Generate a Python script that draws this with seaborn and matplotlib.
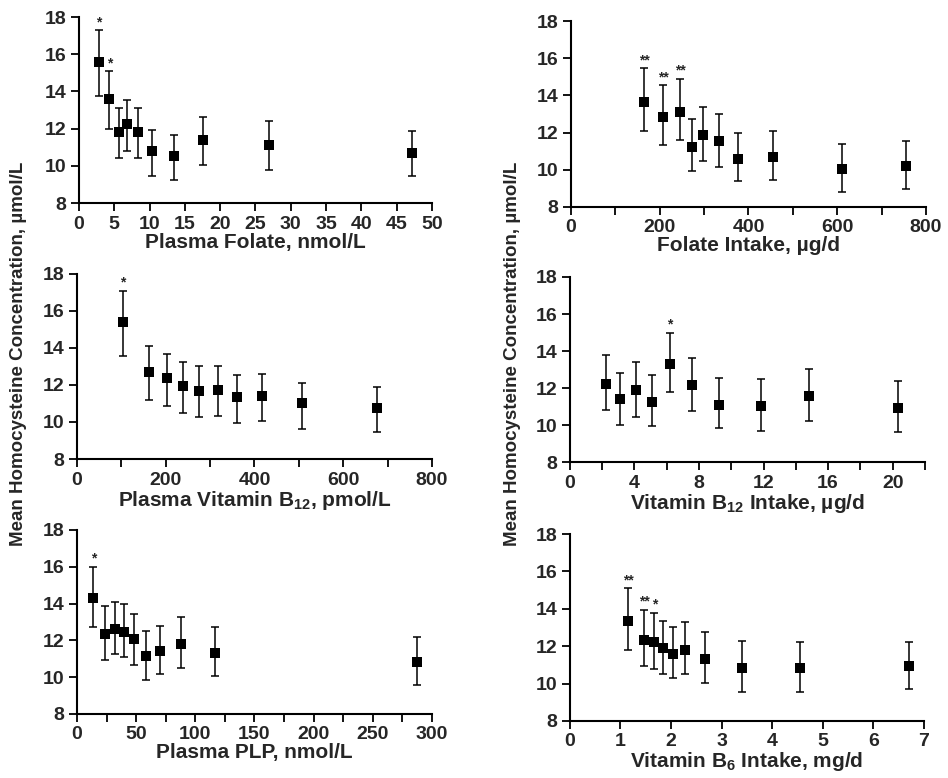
import matplotlib
matplotlib.use("Agg")
import matplotlib.pyplot as plt
import seaborn as sns
from matplotlib.ticker import MultipleLocator

# Panel A: plasma folate
folate_x = [2.8, 4.3, 5.6, 6.8, 8.3, 10.4, 13.5, 17.6, 26.9, 47.1]
folate_mean = [15.6, 13.6, 11.8, 12.25, 11.8, 10.8, 10.55, 11.4, 11.1, 10.7]
folate_hi = [17.3, 15.1, 13.1, 13.55, 13.1, 11.95, 11.65, 12.65, 12.4, 11.9]
folate_lo = [13.75, 12.0, 10.4, 10.8, 10.4, 9.45, 9.25, 10.05, 9.8, 9.45]
folate_stars = ["*", "*", "", "", "", "", "", "", "", ""]

# Panel B: folate intake
fint_x = [165, 208, 246, 273, 297, 333, 376, 456, 611, 754]
fint_mean = [13.65, 12.85, 13.1, 11.25, 11.85, 11.55, 10.6, 10.7, 10.05, 10.2]
fint_hi = [15.45, 14.55, 14.9, 12.75, 13.4, 13.0, 12.0, 12.1, 11.4, 11.55]
fint_lo = [12.1, 11.35, 11.6, 9.95, 10.45, 10.15, 9.4, 9.45, 8.8, 8.95]
fint_stars = ["**", "**", "**", "", "", "", "", "", "", ""]

# Panel C: plasma vitamin B12
b12_x = [103, 163, 203, 240, 274, 318, 361, 418, 507, 677]
b12_mean = [15.4, 12.7, 12.35, 11.95, 11.7, 11.75, 11.35, 11.4, 11.0, 10.75]
b12_hi = [17.1, 14.1, 13.65, 13.25, 13.0, 13.05, 12.55, 12.6, 12.1, 11.9]
b12_lo = [13.55, 11.2, 10.85, 10.5, 10.25, 10.35, 9.95, 10.05, 9.6, 9.45]
b12_stars = ["*", "", "", "", "", "", "", "", "", ""]

# Panel D: vitamin B12 intake
b12int_x = [2.26, 3.13, 4.12, 5.12, 6.19, 7.55, 9.26, 11.87, 14.81, 20.3]
b12int_mean = [12.2, 11.4, 11.9, 11.25, 13.3, 12.15, 11.1, 11.05, 11.55, 10.95]
b12int_hi = [13.8, 12.8, 13.4, 12.7, 15.0, 13.65, 12.55, 12.5, 13.05, 12.4]
b12int_lo = [10.8, 10.0, 10.45, 9.95, 11.8, 10.75, 9.85, 9.7, 10.2, 9.65]
b12int_stars = ["", "", "", "", "*", "", "", "", "", ""]

# Panel E: plasma PLP
plp_x = [13.8, 23.4, 32.1, 40.0, 48.4, 58.0, 69.8, 87.8, 116.8, 287.6]
plp_mean = [14.3, 12.35, 12.6, 12.45, 12.05, 11.15, 11.4, 11.8, 11.3, 10.85]
plp_hi = [16.0, 13.85, 14.1, 13.95, 13.45, 12.5, 12.8, 13.25, 12.7, 12.2]
plp_lo = [12.75, 10.95, 11.25, 11.1, 10.65, 9.85, 10.15, 10.5, 10.05, 9.6]
plp_stars = ["*", "", "", "", "", "", "", "", "", ""]

# Panel F: vitamin B6 intake
b6_x = [1.15, 1.47, 1.67, 1.85, 2.05, 2.27, 2.67, 3.41, 4.55, 6.71]
b6_mean = [13.35, 12.35, 12.2, 11.9, 11.6, 11.8, 11.3, 10.85, 10.85, 10.95]
b6_hi = [15.1, 13.95, 13.8, 13.35, 13.0, 13.3, 12.75, 12.3, 12.2, 12.25]
b6_lo = [11.8, 10.95, 10.8, 10.5, 10.3, 10.5, 10.05, 9.55, 9.55, 9.7]
b6_stars = ["**", "**", "*", "", "", "", "", "", "", ""]

ylabel = "Mean Homocysteine Concentration, \u00b5mol/L"


def main():
    sns.set_theme(style="ticks")
    plt.rcParams["font.family"] = ["Liberation Sans", "DejaVu Sans"]
    plt.rcParams["font.weight"] = "bold"
    plt.rcParams["mathtext.default"] = "regular"

    fig = plt.figure(figsize=(9.48, 7.78), dpi=100)

    panels = [
        # data, xlabel, xmax, tick step, label step, axes rect
        ((folate_x, folate_mean, folate_hi, folate_lo, folate_stars),
         "Plasma Folate, nmol/L", 50, 5, 5, [0.0833, 0.739, 0.3724, 0.239]),
        ((fint_x, fint_mean, fint_hi, fint_lo, fint_stars),
         "Folate Intake, \u00b5g/d", 800, 100, 200, [0.6023, 0.734, 0.3745, 0.239]),
        ((b12_x, b12_mean, b12_hi, b12_lo, b12_stars),
         "Plasma Vitamin B$_{12}$, pmol/L", 800, 100, 200, [0.0812, 0.41, 0.3745, 0.238]),
        ((b12int_x, b12int_mean, b12int_hi, b12int_lo, b12int_stars),
         "Vitamin B$_{12}$ Intake, \u00b5g/d", 22, 2, 4, [0.601, 0.406, 0.3747, 0.238]),
        ((plp_x, plp_mean, plp_hi, plp_lo, plp_stars),
         "Plasma PLP, nmol/L", 300, 25, 50, [0.0812, 0.0823, 0.3745, 0.2365]),
        ((b6_x, b6_mean, b6_hi, b6_lo, b6_stars),
         "Vitamin B$_6$ Intake, mg/d", 7, 1, 1, [0.601, 0.0733, 0.3737, 0.2403]),
    ]

    for (x, mean, hi, lo, stars), xlabel, xmax, step, lstep, rect in panels:
        ax = fig.add_axes(rect)
        yerr = [[m - l for m, l in zip(mean, lo)], [h - m for m, h in zip(mean, hi)]]
        ax.errorbar(x, mean, yerr=yerr, fmt="none", ecolor="black",
                    elinewidth=1.1, capsize=2.8, capthick=1.1, zorder=2)
        sns.scatterplot(x=x, y=mean, ax=ax, marker="s", color="black",
                        s=55, linewidth=0, zorder=3)
        for xi, h, st in zip(x, hi, stars):
            if st:
                ax.text(xi, h + 0.05, st, ha="center", va="bottom",
                        fontsize=10, fontweight="bold")

        ax.set_xlim(0, xmax)
        ax.set_ylim(8, 18)
        ax.yaxis.set_major_locator(MultipleLocator(2))
        ax.xaxis.set_major_locator(MultipleLocator(lstep))
        if step != lstep:
            ax.xaxis.set_minor_locator(MultipleLocator(step))
        ax.tick_params(axis="both", which="both", direction="out", length=6,
                       width=1.3, color="black", labelsize=14, pad=3)
        ax.set_xlabel(xlabel, fontsize=15, fontweight="bold", labelpad=0)
        ax.set_ylabel("")
        sns.despine(ax=ax)
        for sp in ("left", "bottom"):
            ax.spines[sp].set_linewidth(1.5)
            ax.spines[sp].set_color("black")
        for lab in ax.get_xticklabels() + ax.get_yticklabels():
            lab.set_fontweight("bold")

    fig.text(0.019, 0.545, ylabel, rotation=90, ha="center", va="center",
             fontsize=13.5, fontweight="bold")
    fig.text(0.541, 0.545, ylabel, rotation=90, ha="center", va="center",
             fontsize=13.5, fontweight="bold")

    fig.savefig("out.png", dpi=100)
    plt.close(fig)


if __name__ == "__main__":
    main()
